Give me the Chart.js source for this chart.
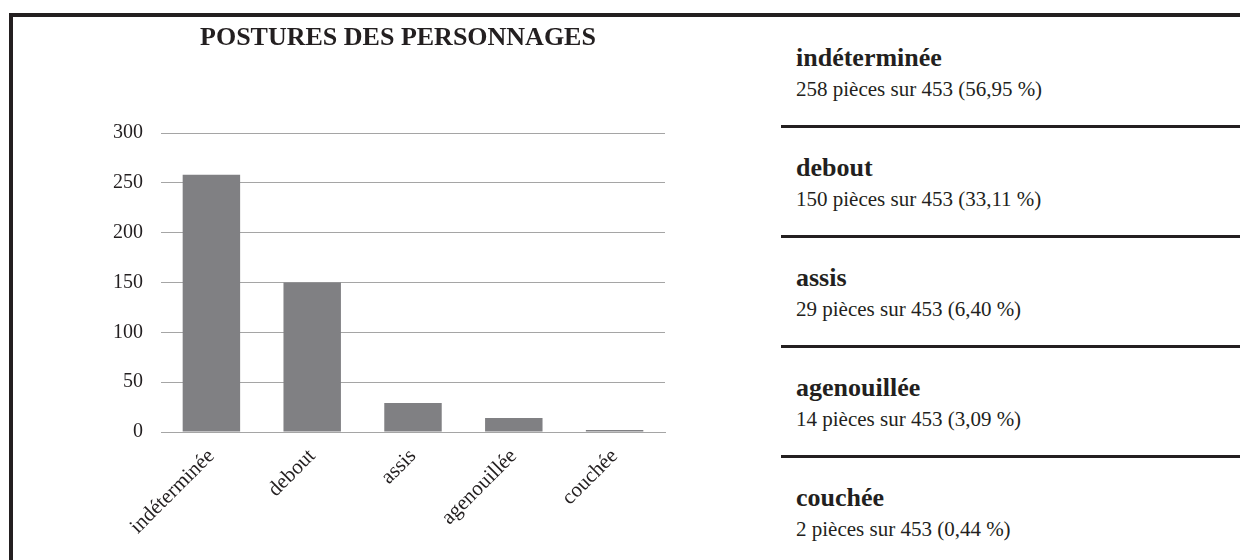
<!DOCTYPE html>
<html>
<head>
<meta charset="utf-8">
<script src="https://cdn.jsdelivr.net/npm/chart.js@4"></script>
<style>
  html, body { margin: 0; padding: 0; background: #fff; }
  body { width: 1240px; height: 560px; position: relative; overflow: hidden; font-family: "Liberation Serif", "DejaVu Serif", serif; color: #231f20; }
  #frameTop { position: absolute; left: 9px; top: 13px; width: 1231px; height: 4px; background: #231f20; }
  #frameLeft { position: absolute; left: 9px; top: 13px; width: 4px; height: 547px; background: #231f20; }
  #chartBox { position: absolute; left: 0; top: 0; width: 740px; height: 560px; }
  #chartTitle { position: absolute; left: 98px; top: 24px; width: 600px; text-align: center; font-size: 26px; line-height: 26px; font-weight: bold; white-space: nowrap; }
  .rowName { position: absolute; left: 796px; font-size: 26px; line-height: 26px; font-weight: bold; white-space: nowrap; }
  .rowText { position: absolute; left: 796px; font-size: 21px; line-height: 21px; white-space: nowrap; }
  .sep { position: absolute; left: 781px; width: 459px; height: 3px; background: #231f20; }
</style>
</head>
<body>
<div id="frameTop"></div>
<div id="frameLeft"></div>
<div id="chartBox"><canvas id="mainChart"></canvas></div>
<div id="chartTitle"></div>
<div id="legendRows"></div>
<script>
const titleText = "POSTURES DES PERSONNAGES";
const postures = ["indéterminée", "debout", "assis", "agenouillée", "couchée"];
const pieces = [258, 150, 29, 14, 2];
const totalPieces = 453;
const yTicks = [0, 50, 100, 150, 200, 250, 300];

const ink = "#231f20";
const serif = "'Liberation Serif', 'DejaVu Serif', serif";

// liste à droite du graphique
function renderRows() {
  const node = document.getElementById("legendRows");
  let html = "";
  postures.forEach((name, i) => {
    const pct = (pieces[i] / totalPieces * 100).toFixed(2).replace(".", ",");
    const top = 45 + i * 110;
    html += `<div class="rowName" style="top:${top}px">${name}</div>`;
    html += `<div class="rowText" style="top:${top + 34}px">${pieces[i]} pièces sur ${totalPieces} (${pct} %)</div>`;
    if (i < postures.length - 1) html += `<div class="sep" style="top:${top + 80}px"></div>`;
  });
  node.innerHTML = html;
}

function renderChart() {
  document.getElementById("chartTitle").textContent = titleText;
  new Chart(document.getElementById("mainChart"), {
    type: "bar",
    data: {
      labels: postures,
      datasets: [{
        data: pieces,
        backgroundColor: "#808083",
        borderWidth: 0,
        categoryPercentage: 0.57,
        barPercentage: 1,
      }],
    },
    options: {
      responsive: true,
      maintainAspectRatio: false,
      animation: false,
      layout: { padding: { left: 91, right: 75, top: 133, bottom: 0 } },
      plugins: {
        legend: { display: false },
        tooltip: { enabled: false },
        title: { display: false },
      },
      scales: {
        x: {
          grid: { display: false, drawTicks: false },
          border: { display: true, color: "#a5a5a5", width: 1 },
          ticks: {
            color: ink,
            font: { family: serif, size: 21 },
            minRotation: 45,
            maxRotation: 45,
            padding: 12,
          },
          afterFit: (axis) => { axis.height = 128; },
        },
        y: {
          min: 0,
          max: 300,
          afterBuildTicks: (axis) => { axis.ticks = yTicks.map((v) => ({ value: v })); },
          grid: { color: "#a5a5a5", lineWidth: 1, drawTicks: false },
          border: { display: false },
          ticks: {
            color: ink,
            font: { family: serif, size: 20 },
            padding: 18,
          },
          afterFit: (axis) => { axis.width = 70; },
        },
      },
    },
  });
}

renderRows();
renderChart();
</script>
</body>
</html>
